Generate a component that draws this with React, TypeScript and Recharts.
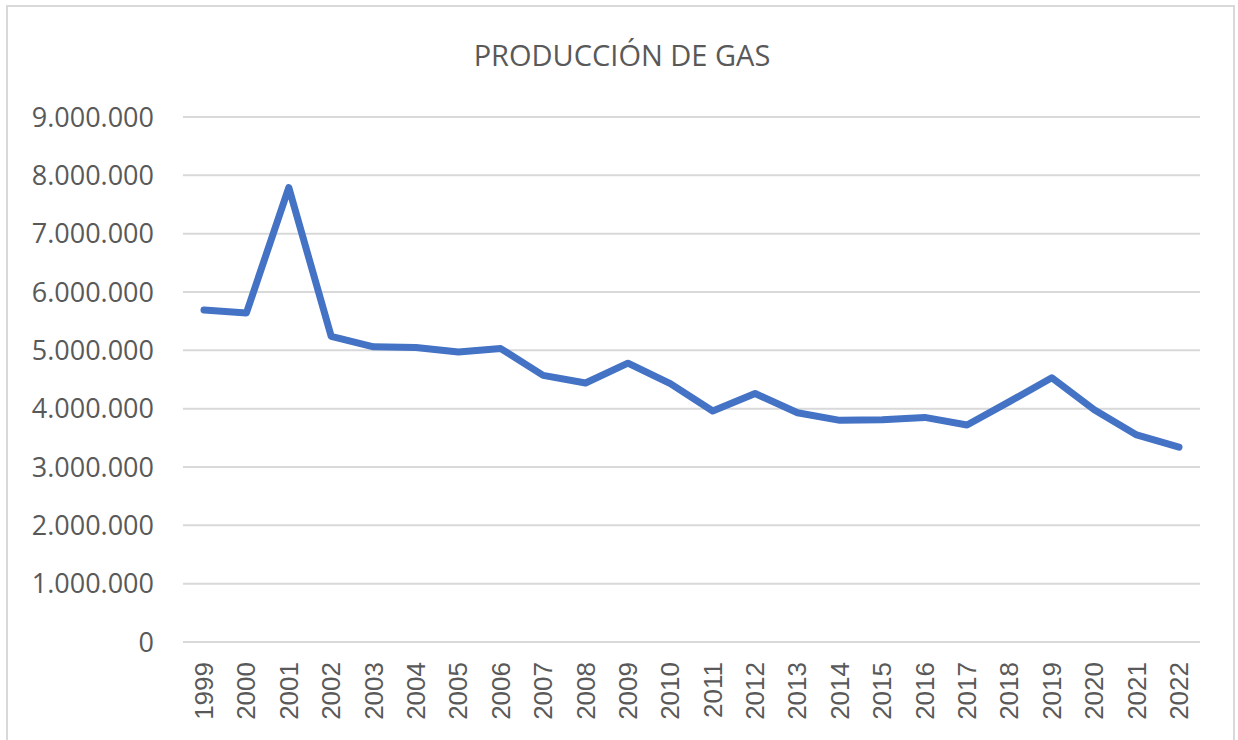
import React from 'react';
import { LineChart, Line, XAxis, YAxis, CartesianGrid } from 'recharts';

const years = [
  '1999', '2000', '2001', '2002', '2003', '2004', '2005', '2006', '2007', '2008', '2009', '2010',
  '2011', '2012', '2013', '2014', '2015', '2016', '2017', '2018', '2019', '2020', '2021', '2022',
];
const production = [
  5690000, 5640000, 7790000, 5240000, 5060000, 5050000, 4970000, 5030000, 4570000, 4440000, 4780000, 4430000,
  3960000, 4260000, 3930000, 3800000, 3810000, 3850000, 3720000, 4120000, 4530000, 3980000, 3550000, 3340000,
];
const yTicks = [0, 1000000, 2000000, 3000000, 4000000, 5000000, 6000000, 7000000, 8000000, 9000000];

const data = years.map((year, i) => ({ year, gas: production[i] }));

const fmt = (v: number) => String(v).replace(/\B(?=(\d{3})+(?!\d))/g, '.');

const YearTick = (props: any) => {
  const { x, y, payload } = props;
  return (
    <g transform={`translate(${x},${y})`}>
      <text
        transform="rotate(-90)"
        textAnchor="end"
        dominantBaseline="central"
        fill="#595959"
        fontSize={26}
        fontFamily="'Liberation Sans', Arial, sans-serif"
      >
        {payload.value}
      </text>
    </g>
  );
};

export default function App() {
  return (
    <div style={{ position: 'absolute', left: 0, top: 0, width: 1238, height: 740, background: '#fff', overflow: 'hidden' }}>
      <div
        style={{
          position: 'absolute', left: 6, top: 5, width: 1229, height: 800,
          border: '2px solid #d9d9d9', boxSizing: 'border-box',
        }}
      />
      <div
        style={{
          position: 'absolute', left: 0, top: 40, width: 1244, textAlign: 'center',
          fontFamily: "'Open Sans', sans-serif", fontSize: 29, lineHeight: '29px', color: '#595959',
        }}
      >
        PRODUCCIÓN DE GAS
      </div>
      <div style={{ position: 'absolute', left: 0, top: 0 }}>
        <LineChart width={1238} height={740} data={data} margin={{ top: 117, right: 38, bottom: 0, left: 0 }}>
          <CartesianGrid vertical={false} stroke="#d9d9d9" strokeWidth={2} />
          <XAxis
            dataKey="year"
            interval={0}
            height={98}
            padding={{ left: 21, right: 21 }}
            axisLine={{ stroke: '#d9d9d9', strokeWidth: 2 }}
            tickLine={false}
            tickSize={0}
            tickMargin={20}
            tick={<YearTick />}
          />
          <YAxis
            width={183}
            domain={[0, 9000000]}
            ticks={yTicks}
            tickFormatter={fmt}
            axisLine={false}
            tickLine={false}
            tickSize={0}
            tickMargin={29}
            tick={{ fill: '#595959', fontSize: 27, fontFamily: "'Open Sans', sans-serif" }}
          />
          <Line
            type="linear"
            dataKey="gas"
            stroke="#4472C4"
            strokeWidth={7}
            strokeLinejoin="round"
            strokeLinecap="round"
            dot={false}
            activeDot={false}
            isAnimationActive={false}
          />
        </LineChart>
      </div>
    </div>
  );
}
